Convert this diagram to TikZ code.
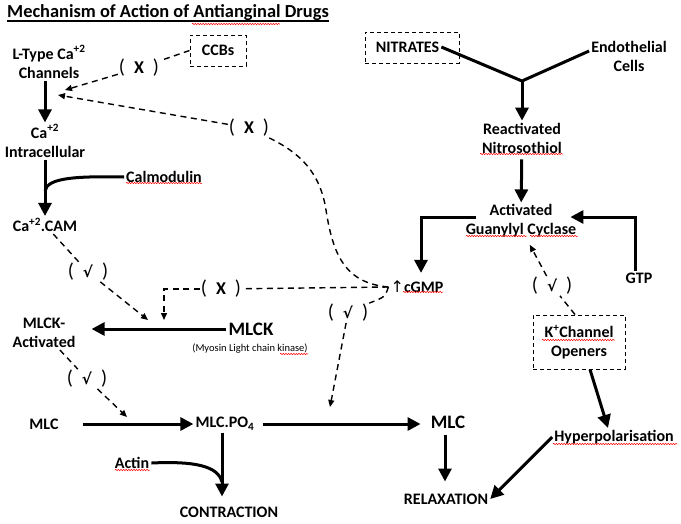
\documentclass[tikz,border=0pt]{standalone}
\usepackage{fontspec}
\setmainfont{Carlito}
\newfontfamily\dvsans{DejaVu Sans}
\usetikzlibrary{arrows.meta,decorations.pathmorphing}
\newcommand{\gated}[1]{{\fontsize{20}{20}\selectfont\mdseries(}\hspace{9pt}#1\hspace{9pt}{\fontsize{20}{20}\selectfont\mdseries)}}
\newcommand{\chk}{{\dvsans\fontsize{15}{15}\selectfont\bfseries √}}
\begin{document}
\begin{tikzpicture}[x=1pt,y=-1pt,
  txt/.style={font=\fontsize{16}{19}\selectfont\bfseries, align=center, inner sep=2pt},
  big/.style={font=\fontsize{19}{22}\selectfont\bfseries, inner sep=2pt},
  gate/.style={font=\fontsize{18}{19}\selectfont\bfseries, inner sep=1pt},
  dbox/.style={draw, dash pattern=on 4pt off 3pt, line width=1pt},
  fat/.style={line width=3pt},
  fatarrow/.style={fat, -{Triangle[length=13pt,width=13pt]}},
  dline/.style={line width=1.4pt, dash pattern=on 6pt off 4.5pt},
  darrow/.style={dline, -{Triangle[length=7pt,width=6pt]}},
  spell/.style={red, line width=0.5pt, decorate, decoration={snake,amplitude=0.7pt,segment length=2.6pt}}]
\useasboundingbox (0,0) rectangle (681,523);
\node[anchor=base west, inner sep=0pt, font=\fontsize{18.4}{20}\selectfont\bfseries] (title) at (7,17) {Mechanism of Action of Antianginal Drugs};
\draw[line width=1.6pt] ([yshift=-4pt]title.base west) -- ([yshift=-4pt]title.base east);
% left column
\node[txt] (chan) at (49,62) {L-Type Ca\textsuperscript{+2}\\Channels};
\node[txt] (cai) at (45,141) {Ca\textsuperscript{+2}\\Intracellular};
\node[txt] (calm) at (164,177) {Calmodulin};
\node[txt] (cam) at (45,225) {Ca\textsuperscript{+2}.CAM};
\node[txt, dbox, minimum width=56pt, minimum height=31pt] (ccbs) at (218,50.5) {CCBs};
\node[gate] (xa) at (139,68) {\gated{X}};
\node[gate] (xb) at (249,128) {\gated{X}};
\node[gate] (va) at (88,272) {\gated{\chk}};
\node[gate] (xc) at (221,289) {\gated{X}};
\node[gate] (vb) at (87,379) {\gated{\chk}};
\node[big] (mlck) at (251,329) {MLCK};
\node[font=\fontsize{10.5}{12}\selectfont, inner sep=1pt] (myo) at (250,349) {(Myosin Light chain kinase)};
\node[txt] (mlcka) at (44,333) {MLCK-\\Activated};
\node[txt] (mlca) at (44,424) {MLC};
\node[txt] (mlcp) at (225,424) {MLC.PO\textsubscript{4}};
\node[txt] (actin) at (132,463) {Actin};
\node[txt] (contr) at (229,512) {CONTRACTION};
% right column
\node[dbox, minimum width=94pt, minimum height=31pt] (nbox) at (412,47.5) {};
\node[txt] (nitr) at (407.5,47) {NITRATES};
\node[txt] (endo) at (629,56) {Endothelial\\Cells};
\coordinate (fork) at (522,81);
\node[txt] (rnit) at (522,138) {Reactivated\\Nitrosothiol};
\node[txt] (gc) at (521,221) {Activated\\Guanylyl Cyclase};
\node[txt] (gtp) at (639,278) {GTP};
\node[txt] (cgmp) at (417,287) {{\dvsans\mdseries ↑}cGMP};
\node[gate] (vc) at (348,313) {\gated{\chk}};
\node[gate] (vd) at (552,286) {\gated{\chk}};
\node[txt, dbox, minimum width=92pt, minimum height=54pt] (kco) at (579,342) {K\textsuperscript{+}Channel\\Openers};
\node[big] (mlcb) at (448,422) {MLC};
\node[txt] (hyper) at (614,437) {Hyperpolarisation};
\node[txt] (relax) at (446,499) {RELAXATION};
% free ends
\coordinate (chtipa) at (65,90);
\coordinate (chtipb) at (58,95);
\coordinate (calmjoin) at (45,191);
\coordinate (vatip) at (148,320);
\coordinate (xctip) at (164,320);
\coordinate (vbtip) at (127,417);
\coordinate (vctip) at (330,407);
\coordinate (actinjoin) at (222,482);
% solid arrows
\draw[fatarrow] (chan.south -| cai.north) -- (cai.north);
\draw[fatarrow] (cai) -- (cam);
\draw[fat] (calm.west) .. controls (75,176) and (47,178) .. (calmjoin);
\draw[fatarrow, shorten >=14pt] (mlck.west) -- (mlck.west -| mlcka.east);
\draw[fatarrow, shorten <=22pt] (mlca) -- (mlcp);
\draw[fatarrow, shorten <=6pt, shorten >=8pt] (mlcp.east) -- (mlcp.east -| mlcb.west);
\draw[fatarrow, shorten >=8pt] ([xshift=-3pt]mlcp.south) -- ([xshift=-3pt]mlcp.south |- contr.north);
\draw[fat] (actin.east) .. controls (195,461) and (218,466) .. (actinjoin);
\draw[fatarrow, shorten <=4pt, shorten >=10pt] ([xshift=-3pt]mlcb.south) -- ([xshift=-3pt]mlcb.south |- relax.north);
\draw[fat] (nitr.east) -- (fork) -- ([yshift=5pt]endo.west);
\draw[fatarrow] (fork) -- (rnit);
\draw[fatarrow, shorten <=4pt] (rnit) -- (gc);
\draw[fatarrow, shorten >=6pt] ([xshift=12pt,yshift=4pt]gc.west) -| ([xshift=4pt]cgmp.north);
\draw[fatarrow] ([xshift=-4pt]gtp.north) |- ([xshift=-8pt,yshift=4pt]gc.east);
\draw[fatarrow] ([xshift=11pt]kco.south) -- ([xshift=-6pt]hyper.north);
\draw[fatarrow] (hyper.west) -- (relax.east);
% dashed arrows
\draw[dline] (ccbs.west) -- (xa);
\draw[darrow] (xa) -- (chtipa);
\draw[dline] (cgmp.west) .. controls (345,283) and (333,255) .. (326,210) .. controls (320,172) and (300,153) .. (xb);
\draw[darrow] (xb) -- (chtipb);
\draw[dline] (cam) -- (va);
\draw[darrow] (va) -- (vatip);
\draw[dline] (cgmp.west) -- (xc);
\draw[darrow] (xc) -| (xctip);
\draw[dline] (mlcka) -- (vb);
\draw[darrow] (vb) -- (vbtip);
\draw[dline] (cgmp.west) .. controls (385,297) .. (vc.north east);
\draw[darrow] (vc) -- (vctip);
\draw[dline] ([xshift=-4pt]kco.north) -- (vd);
\draw[darrow, shorten >=6pt] (vd) -- ([xshift=6pt]gc.south);
% spelling marks
\foreach \a/\b/\y in {192/280/24, 126/202/183, 480/563/154, 466/527/236, 530/578/236,
  403/443/292, 542/615/340, 553/677/444, 115/150/470, 280/308/354}
  \draw[spell] (\a,\y) -- (\b,\y);
\end{tikzpicture}
\end{document}
